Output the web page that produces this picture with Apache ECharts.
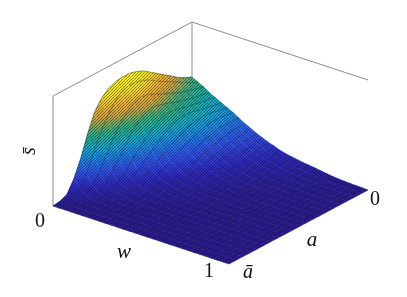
<!DOCTYPE html>
<html><head><meta charset="utf-8"><style>html,body{margin:0;padding:0;background:#fff}#c{width:407px;height:297px}</style>
<script src="https://cdn.jsdelivr.net/npm/echarts@6/dist/echarts.min.js"></script></head>
<body><div id="c"></div><script>
// surface height; rows: w from 0 to 1, columns: a from abar to 0
const z00=[0,1,4,16,33,54,72,82,88,91,92,92,90,87,82,77,72,67,62,58,55];
const z01=[0,0,2,8,20,37,53,66,76,83,85,85,83,80,75,71,67,63,59,55,52];
const z02=[0,0,1,4,10,20,33,46,57,65,70,72,71,68,64,61,58,55,53,51,49];
const z03=[0,0,1,2,5,10,18,28,39,49,56,60,61,59,57,54,52,50,48,47,45];
const z04=[0,0,0,1,3,6,10,16,24,32,39,45,50,52,52,50,48,47,45,44,42];
const z05=[0,0,0,1,2,4,7,11,16,22,28,34,40,44,46,46,45,43,42,40,39];
const z06=[0,0,0,0,1,3,5,8,11,15,20,25,29,33,37,39,40,40,39,37,36];
const z07=[0,0,0,0,1,2,3,5,8,11,14,18,22,26,29,32,34,35,35,34,33];
const z08=[0,0,0,0,0,1,2,4,6,8,11,14,17,20,23,26,28,30,30,30,29.5];
const z09=[0,0,0,0,0,1,1,3,4,6,8,10,13,15,18,20,22,24,25,26,26];
const z10=[0,0,0,0,0,0,1,2,3,4,6,8,10,12,14,16,18,20,21,22,23];
const z11=[0,0,0,0,0,0,1,1,2,3,4,6,7,9,11,13,14,16,18,19,20];
const z12=[0,0,0,0,0,0,0,1,1,2,3,4,6,7,9,10,12,13,15,16,17.5];
const z13=[0,0,0,0,0,0,0,0,1,2,2,3,4,6,7,8,9,11,12,14,15];
const z14=[0,0,0,0,0,0,0,0,0,1,2,2,3,4,5,6,7,9,10,11,13];
const z15=[0,0,0,0,0,0,0,0,0,1,1,2,2,3,4,5,6,7,8,9,10.8];
const z16=[0,0,0,0,0,0,0,0,0,0.5,1,1,2,2,3,4,5,6,7,8,9.3];
const z17=[0,0,0,0,0,0,0,0,0,0,1,1,1,2,2,3,4,5,6,7,8];
const z18=[0,0,0,0,0,0,0,0,0,0,0.5,1,1,1,2,2,3,4,5,6,7];
const z19=[0,0,0,0,0,0,0,0,0,0,0,0.5,1,1,1,2,2,3,4,5,6];
const z20=[0,0,0,0,0,0,0,0,0,0,0,0.5,1,1,1,2,2,3,3,4,5.3];
const z21=[0,0,0,0,0,0,0,0,0,0,0,0,0.5,1,1,1,2,2,3,3,4.5];
const z22=[0,0,0,0,0,0,0,0,0,0,0,0,0.5,0.5,1,1,1,2,2,3,3.6];
const z23=[0,0,0,0,0,0,0,0,0,0,0,0,0,0.5,0.5,1,1,1,2,2,2.8];
const z24=[0,0,0,0,0,0,0,0,0,0,0,0,0,0,0.5,0.5,1,1,1,1.5,2];
const z25=[0,0,0,0,0,0,0,0,0,0,0,0,0,0,0,0.5,0.5,1,1,1,1.4];
const z26=[0,0,0,0,0,0,0,0,0,0,0,0,0,0,0,0.3,0.5,0.5,0.7,0.8,1];
const z27=[0,0,0,0,0,0,0,0,0,0,0,0,0,0,0,0,0.3,0.4,0.5,0.6,0.7];
const z28=[0,0,0,0,0,0,0,0,0,0,0,0,0,0,0,0,0,0.2,0.3,0.4,0.5];
const z29=[0,0,0,0,0,0,0,0,0,0,0,0,0,0,0,0,0,0,0.1,0.2,0.3];
const z30=[0,0,0,0,0,0,0,0,0,0,0,0,0,0,0,0,0,0,0,0,0];
const surface=[z00,z01,z02,z03,z04,z05,z06,z07,z08,z09,z10,z11,z12,z13,z14,z15,z16,z17,z18,z19,z20,z21,z22,z23,z24,z25,z26,z27,z28,z29,z30];
const boxTop=110, zMax=92;
const boxEdges=[[0,0,0,0,0,boxTop],[0,0,boxTop,0,1,boxTop],[0,1,boxTop,1,1,boxTop],[0,1,0,0,1,boxTop]];
const stops=[[0,[44,30,146]],[0.10,[48,42,192]],[0.22,[50,84,232]],[0.35,[26,138,222]],[0.45,[14,170,190]],[0.53,[30,172,145]],[0.60,[66,172,116]],[0.66,[156,166,80]],[0.72,[214,162,58]],[0.80,[234,178,48]],[0.88,[238,220,32]],[1,[246,240,16]]];
function project(s,t,z){return [53+176*s+139*t,206+58*s-74*t-z];}
function colour(v){
  const f=Math.max(0,Math.min(1,v/zMax));
  for(let k=1;k<stops.length;k++){
    if(f<=stops[k][0]){
      const a=stops[k-1],b=stops[k],m=(f-a[0])/(b[0]-a[0]);
      return 'rgb('+a[1].map((c,n)=>Math.round(c+(b[1][n]-c)*m)).join(',')+')';
    }
  }
  return 'rgb(246,240,16)';
}
// fine mesh texture of the surface
const hatch=document.createElement('canvas');hatch.width=3;hatch.height=3;
const hctx=hatch.getContext('2d');hctx.fillStyle='rgba(0,0,30,0.42)';
hctx.fillRect(0,0,1,1);hctx.fillRect(2,1,1,1);hctx.fillRect(1,2,1,1);
const rows=surface.length, cols=surface[0].length;
const cells=[];
for(let i=0;i<rows-1;i++){for(let j=cols-2;j>=0;j--){cells.push([i,j]);}}
const chart=echarts.init(document.getElementById('c'),null,{renderer:'canvas'});
const serif='"Liberation Serif",serif';
function label(text,x,y,size,italic,rot){
  return {type:'text',x:x,y:y,rotation:rot||0,style:{text:text,fontFamily:serif,fontSize:size,fontStyle:italic?'italic':'normal',fill:'#111',textAlign:'center',textVerticalAlign:'middle'}};
}
chart.setOption({
  animation:false,
  grid:{left:0,right:0,top:0,bottom:0},
  xAxis:{type:'value',min:0,max:407,show:false},
  yAxis:{type:'value',min:0,max:297,inverse:true,show:false},
  graphic:[label('0',40,222,20),label('w',124,252,21,true),label('1',209,272,20),label('ā',248,273,20,true),label('a',312,240,21,true),label('0',375,200,20),label('s̄',30,151,20,true,Math.PI/2)],
  series:[
   {type:'custom',coordinateSystem:'cartesian2d',silent:true,z:1,data:boxEdges,
    renderItem:function(p,api){
      const e=boxEdges[p.dataIndex];
      const a=api.coord(project(e[0]*1,e[1]*1,e[2])),b=api.coord(project(e[3]*1,e[4]*1,e[5]));
      return {type:'line',shape:{x1:a[0],y1:a[1],x2:b[0],y2:b[1]},style:{stroke:'#8c8c8c',lineWidth:1}};
    }},
   {type:'custom',coordinateSystem:'cartesian2d',silent:true,z:2,progressive:0,data:cells,
    renderItem:function(p,api){
      const c=cells[p.dataIndex],i=c[0],j=c[1];
      const P=(a,b)=>api.coord(project(a/(rows-1),b/(cols-1),surface[a][b]));
      const p00=P(i,j),p01=P(i,j+1),p11=P(i+1,j+1),p10=P(i+1,j);
      const verts=[[p00,surface[i][j]],[p01,surface[i][j+1]],[p11,surface[i+1][j+1]],[p10,surface[i+1][j]]];
      let lo=verts[0],hi=verts[0];
      verts.forEach(v=>{if(v[1]<lo[1])lo=v;if(v[1]>hi[1])hi=v;});
      const n=5,colorStops=[];
      for(let k=0;k<=n;k++){colorStops.push({offset:k/n,color:colour(lo[1]+(hi[1]-lo[1])*k/n)});}
      const same=hi[1]===lo[1]||(lo[0][0]===hi[0][0]&&lo[0][1]===hi[0][1]);
      const fill=same?colour(lo[1]):{type:'linear',x:lo[0][0],y:lo[0][1],x2:hi[0][0],y2:hi[0][1],global:true,colorStops:colorStops};
      return {type:'group',children:[
        {type:'polygon',shape:{points:[p00,p01,p11,p10]},style:{fill:fill,stroke:fill,lineWidth:0.6}},
        {type:'polygon',shape:{points:[p00,p01,p11,p10]},style:{fill:{image:hatch,repeat:'repeat'},stroke:null}},
        {type:'line',shape:{x1:p00[0],y1:p00[1],x2:p01[0],y2:p01[1]},style:{stroke:'rgba(0,0,30,0.5)',lineWidth:0.7}}
      ]};
    }}
  ]
});
</script></body></html>
